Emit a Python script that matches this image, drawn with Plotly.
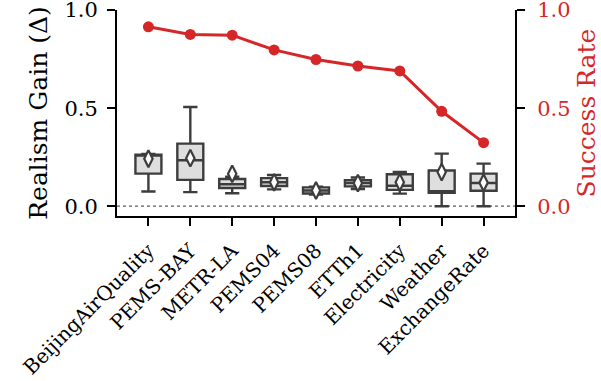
import plotly.graph_objects as go

datasets = ["BeijingAirQuality", "PEMS-BAY", "METR-LA", "PEMS04", "PEMS08",
            "ETTh1", "Electricity", "Weather", "ExchangeRate"]
success_rate = [0.915, 0.876, 0.872, 0.797, 0.748, 0.715, 0.690, 0.484, 0.324]

gain_lower = [0.075, 0.072, 0.066, 0.086, 0.060, 0.088, 0.064, 0.000, 0.000]
gain_q1    = [0.166, 0.134, 0.093, 0.103, 0.065, 0.101, 0.083, 0.068, 0.079]
gain_med   = [0.258, 0.234, 0.112, 0.122, 0.080, 0.118, 0.104, 0.077, 0.118]
gain_q3    = [0.263, 0.319, 0.139, 0.143, 0.096, 0.133, 0.163, 0.182, 0.166]
gain_upper = [0.266, 0.506, 0.150, 0.159, 0.100, 0.146, 0.174, 0.268, 0.217]
gain_mean  = [0.242, 0.245, 0.165, 0.122, 0.080, 0.118, 0.122, 0.174, 0.120]

xs = list(range(len(datasets)))
FONT = "DejaVu Serif"
RED = "#d62728"
DARK = "#3d3d3d"

fig = go.Figure()

fig.add_trace(go.Box(
    x=xs, q1=gain_q1, median=gain_med, q3=gain_q3,
    lowerfence=gain_lower, upperfence=gain_upper,
    width=0.62, whiskerwidth=0.55,
    fillcolor="#dedede", line=dict(color=DARK, width=2.4),
    boxpoints=False, showlegend=False, hoverinfo="skip",
))

fig.add_trace(go.Scatter(
    x=xs, y=gain_mean, mode="markers",
    marker=dict(symbol="diamond-tall", size=12, color="white",
                line=dict(color=DARK, width=2.2)),
    showlegend=False, hoverinfo="skip",
))

fig.add_trace(go.Scatter(
    x=xs, y=success_rate, mode="lines+markers", yaxis="y2",
    line=dict(color=RED, width=3),
    marker=dict(size=11, color=RED),
    showlegend=False, hoverinfo="skip",
))

fig.add_shape(type="line", xref="paper", x0=0, x1=1, yref="y", y0=0, y1=0,
              line=dict(color="#8a8a8a", width=1.8, dash="dot"), layer="below")

axis_common = dict(showgrid=False, zeroline=False, showline=True,
                   linecolor="black", linewidth=2, ticks="outside",
                   ticklen=8, tickwidth=1.8, tickcolor="black",
                   automargin=False, ticklabeloverflow="allow")

fig.update_layout(
    width=601, height=381,
    margin=dict(l=117, r=86, t=10, b=165),
    plot_bgcolor="white", paper_bgcolor="white",
    font=dict(family=FONT, size=21, color="black"),
    xaxis=dict(range=[-0.75, 8.75], tickvals=xs, ticktext=datasets,
               tickangle=-45, tickfont=dict(size=20), ticklabelstandoff=5,
               **axis_common),
    yaxis=dict(range=[-0.05, 1.0005], tickvals=[0, 0.5, 1.0],
               ticktext=["0.0", "0.5", "1.0"], ticklabelstandoff=5,
               title=dict(text="Realism Gain (Δ)", standoff=10),
               **axis_common),
    yaxis2=dict(range=[-0.05, 1.0005], tickvals=[0, 0.5, 1.0],
                ticktext=["0.0", "0.5", "1.0"], overlaying="y", side="right",
                tickfont=dict(color=RED), ticklabelstandoff=8,
                title=dict(text="Success Rate", font=dict(color=RED), standoff=10),
                **axis_common),
)

fig.write_html("out.html", config={"displayModeBar": False},
               post_script="document.body.style.margin='0';")
